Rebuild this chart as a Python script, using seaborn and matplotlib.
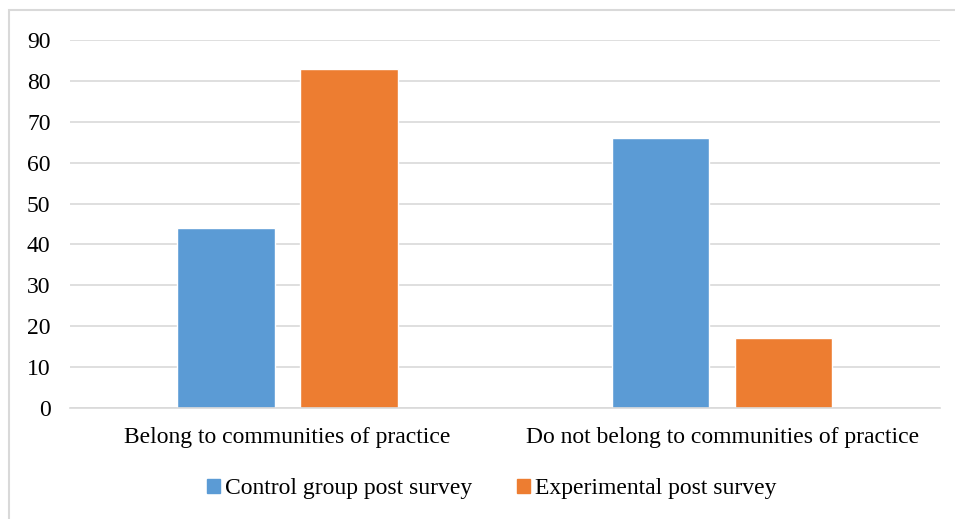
import pandas as pd
import matplotlib.pyplot as plt
import matplotlib.patches as mpatches
import seaborn as sns

categories = ['Belong to communities of practice', 'Do not belong to communities of practice']
series = ['Control group post survey', 'Experimental post survey']
control = [44, 66]
experimental = [83, 17]
colors = ['#5B9BD5', '#ED7D31']

df = pd.DataFrame({
    'category': categories * 2,
    'series': [series[0]] * 2 + [series[1]] * 2,
    'value': control + experimental,
})

sns.set_style('white')
plt.rcParams['font.family'] = ['Liberation Serif', 'DejaVu Serif']
plt.rcParams['text.color'] = 'black'

fig = plt.figure(figsize=(9.55, 5.19), dpi=100)
ax = fig.add_axes([0.0733, 0.2139, 0.9107, 0.709])

sns.barplot(data=df, x='category', y='value', hue='series', palette=colors,
            width=0.566, gap=0.21, ax=ax, saturation=1, legend=False)

ax.set_ylim(0, 90)
ax.set_yticks(range(0, 91, 10))
ax.set_xlim(-0.5, 1.5)
ax.yaxis.grid(True, color='#D9D9D9', linewidth=1.2)
ax.set_axisbelow(True)
for s in ['top', 'right', 'left']:
    ax.spines[s].set_visible(False)
ax.spines['bottom'].set_color('#D9D9D9')
ax.spines['bottom'].set_linewidth(1.2)
ax.tick_params(axis='both', length=0, labelsize=17, labelcolor='black')
ax.tick_params(axis='y', pad=14)
ax.tick_params(axis='x', pad=14)
ax.set_xlabel('')
ax.set_ylabel('')

handles = [mpatches.Patch(color=c, label=s) for c, s in zip(colors, series)]
fig.legend(handles=handles, loc='center', bbox_to_anchor=(0.5147, 0.058), ncol=2,
           frameon=False, fontsize=17, handlelength=0.55, handleheight=0.55,
           handletextpad=0.2, columnspacing=1.9)

# chart border, cropped at right and bottom in the original
fig.add_artist(mpatches.Rectangle((9 / 955, -0.1), 1.2, 1.1 - 10 / 519,
                                  transform=fig.transFigure, fill=False,
                                  edgecolor='#D9D9D9', linewidth=1.5))

fig.savefig('out.png', dpi=100)
